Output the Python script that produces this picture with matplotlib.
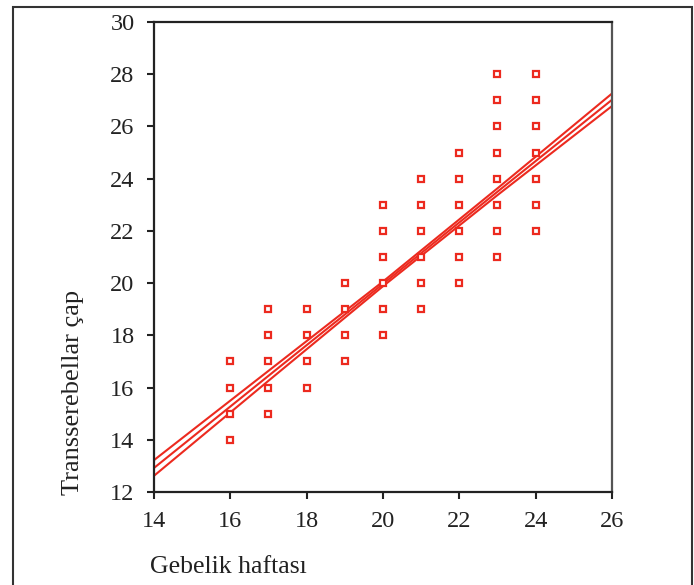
import matplotlib.pyplot as plt
from matplotlib.patches import Rectangle

# gebelik haftasi -> transserebellar cap olcumleri
weeks = [16]*4 + [17]*5 + [18]*4 + [19]*4 + [20]*6 + [21]*6 + [22]*6 + [23]*8 + [24]*7
tcd = [14, 15, 16, 17,
       15, 16, 17, 18, 19,
       16, 17, 18, 19,
       17, 18, 19, 20,
       18, 19, 20, 21, 22, 23,
       19, 20, 21, 22, 23, 24,
       20, 21, 22, 23, 24, 25,
       21, 22, 23, 24, 25, 26, 27, 28,
       22, 23, 24, 25, 26, 27, 28]

# regresyon dogrusu ve guven bandi
fit_x = [14, 17, 20, 23, 26]
fit_y = [12.92, 16.45, 19.97, 23.50, 27.02]
upper = [13.22, 16.64, 20.06, 23.63, 27.26]
lower = [12.62, 16.26, 19.88, 23.37, 26.78]

red = '#ec2a1f'
plt.rcParams['font.family'] = ['Liberation Serif', 'DejaVu Serif']

fig = plt.figure(figsize=(6.94, 5.85), dpi=100)
ax = fig.add_axes([0.2219, 0.159, 0.6599, 0.8034])

ax.plot(fit_x, upper, color=red, lw=1.5)
ax.plot(fit_x, fit_y, color=red, lw=1.5)
ax.plot(fit_x, lower, color=red, lw=1.5)
ax.plot(weeks, tcd, ls='none', marker='s', ms=5, mfc='white', mec=red, mew=1.6)

ax.set_xlim(14, 26)
ax.set_ylim(12, 30)
ax.set_xticks(range(14, 27, 2))
ax.set_yticks(range(12, 31, 2))
ax.tick_params(direction='out', length=5, width=1.5, labelsize=17.5, colors='#222222')
ax.tick_params(axis='y', pad=9)
ax.tick_params(axis='x', pad=9)
for s in ax.spines.values():
    s.set_linewidth(1.6)
    s.set_color('#222222')
ax.spines['right'].set_color('#555555')

fig.text(0.105, 0.154, 'Transserebellar çap', rotation=90, fontsize=19,
         ha='center', va='bottom', color='#222222')
fig.text(0.216, 0.031, 'Gebelik haftası', fontsize=18.5, ha='left', va='center', color='#222222')

# dis cerceve
fig.add_artist(Rectangle((13/694, -0.05), 679/694, 1.05 - 7/585, transform=fig.transFigure,
                         fill=False, lw=1.5, ec='#333333'))

fig.savefig('out.png', dpi=100)
